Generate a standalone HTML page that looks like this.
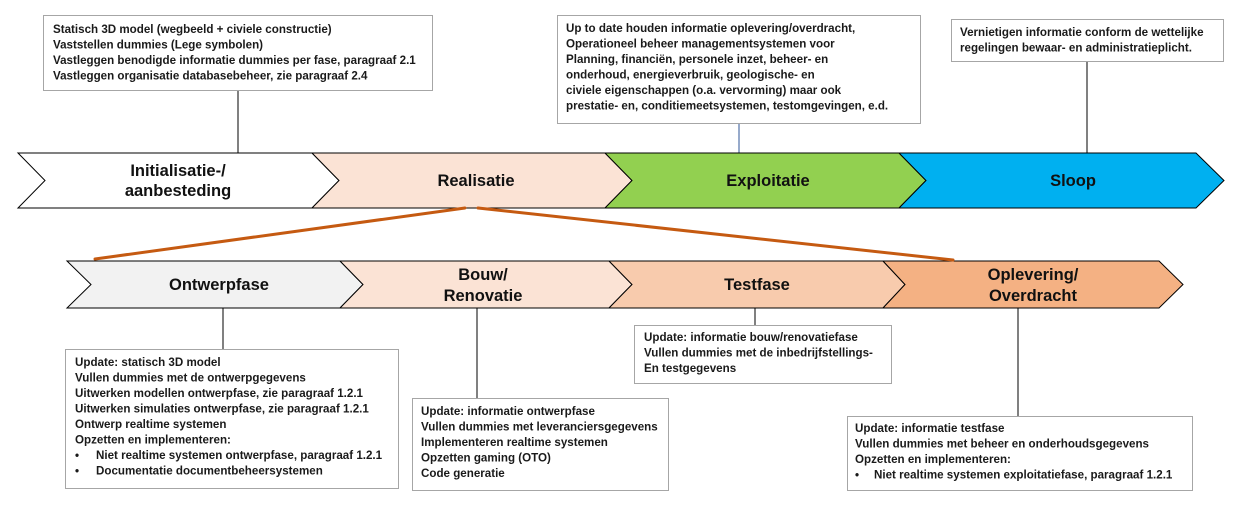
<!DOCTYPE html>
<html><head><meta charset="utf-8"><style>
html,body{margin:0;padding:0;background:#fff;}
svg{display:block;}
.t{font-family:"Liberation Sans",sans-serif;font-size:11.6px;font-weight:bold;fill:#1a1a1a;}
.h{font-family:"Liberation Sans",sans-serif;font-size:16.5px;font-weight:bold;fill:#111;}
</style></head><body>
<svg width="1242" height="505" viewBox="0 0 1242 505" xmlns="http://www.w3.org/2000/svg">
<g stroke="#000" stroke-width="1">
<line x1="238" y1="90" x2="238" y2="153"/>
<line x1="739" y1="123" x2="739" y2="153" stroke="#2f5597"/>
<line x1="1087" y1="61" x2="1087" y2="153"/>
<line x1="223" y1="308" x2="223" y2="349"/>
<line x1="477" y1="308" x2="477" y2="398"/>
<line x1="755" y1="308" x2="755" y2="325"/>
<line x1="1018" y1="308" x2="1018" y2="416"/>
</g>
<g stroke="#000" stroke-width="1">
<polygon points="18,153 312,153 339,180.5 312,208 18,208 45,180.5" fill="#fff"/>
<polygon points="312,153 605,153 632,180.5 605,208 312,208 339,180.5" fill="#fbe3d5"/>
<polygon points="605,153 899,153 926,180.5 899,208 605,208 632,180.5" fill="#92d050"/>
<polygon points="899,153 1196,153 1224,180.5 1196,208 899,208 926,180.5" fill="#00b0f0"/>
</g>
<text class="h" x="178" y="176" text-anchor="middle">Initialisatie-/</text>
<text class="h" x="178" y="196" text-anchor="middle">aanbesteding</text>
<text class="h" x="476" y="186" text-anchor="middle">Realisatie</text>
<text class="h" x="768" y="186" text-anchor="middle">Exploitatie</text>
<text class="h" x="1073" y="186" text-anchor="middle">Sloop</text>
<g stroke="#000" stroke-width="1">
<polygon points="67,261 340,261 363,284.5 340,308 67,308 91,284.5" fill="#f2f2f2"/>
<polygon points="340,261 609,261 632,284.5 609,308 340,308 363,284.5" fill="#fbe3d5"/>
<polygon points="609,261 883,261 905,284.5 883,308 609,308 632,284.5" fill="#f8cbad"/>
<polygon points="883,261 1159,261 1183,284.5 1159,308 883,308 905,284.5" fill="#f4b183"/>
</g>
<text class="h" x="219" y="290" text-anchor="middle">Ontwerpfase</text>
<text class="h" x="483" y="280" text-anchor="middle">Bouw/</text>
<text class="h" x="483" y="301" text-anchor="middle">Renovatie</text>
<text class="h" x="757" y="290" text-anchor="middle">Testfase</text>
<text class="h" x="1033" y="280" text-anchor="middle">Oplevering/</text>
<text class="h" x="1033" y="301" text-anchor="middle">Overdracht</text>
<g stroke="#c55a11" stroke-width="3" stroke-linecap="round">
<line x1="95" y1="259" x2="465" y2="208"/>
<line x1="478" y1="208" x2="953" y2="260"/>
</g>
<g fill="#fff" stroke="#a6a6a6" stroke-width="1">
<rect x="43.5" y="15.5" width="389" height="75"/>
<rect x="557.5" y="15.5" width="363" height="108"/>
<rect x="951.5" y="19.5" width="272" height="42"/>
<rect x="65.5" y="349.5" width="333" height="139"/>
<rect x="412.5" y="398.5" width="256" height="92"/>
<rect x="634.5" y="325.5" width="257" height="58"/>
<rect x="847.5" y="416.5" width="345" height="74"/>
</g>
<g class="t">
<text x="53" y="33">Statisch 3D model (wegbeeld + civiele constructie)</text>
<text x="53" y="48.5">Vaststellen dummies (Lege symbolen)</text>
<text x="53" y="64">Vastleggen benodigde informatie dummies per fase, paragraaf 2.1</text>
<text x="53" y="79.5">Vastleggen organisatie databasebeheer, zie paragraaf 2.4</text>

<text x="566" y="32">Up to date houden informatie oplevering/overdracht,</text>
<text x="566" y="47.5">Operationeel beheer managementsystemen voor</text>
<text x="566" y="63">Planning, financiën, personele inzet, beheer- en</text>
<text x="566" y="78.5">onderhoud, energieverbruik, geologische- en</text>
<text x="566" y="94">civiele eigenschappen (o.a. vervorming) maar ook</text>
<text x="566" y="109.5">prestatie- en, conditiemeetsystemen, testomgevingen, e.d.</text>

<text x="960" y="36">Vernietigen informatie conform de wettelijke</text>
<text x="960" y="51.5">regelingen bewaar- en administratieplicht.</text>

<text x="75" y="366">Update: statisch 3D model</text>
<text x="75" y="381.5">Vullen dummies met de ontwerpgegevens</text>
<text x="75" y="397">Uitwerken modellen ontwerpfase, zie paragraaf 1.2.1</text>
<text x="75" y="412.5">Uitwerken simulaties ontwerpfase, zie paragraaf 1.2.1</text>
<text x="75" y="428">Ontwerp realtime systemen</text>
<text x="75" y="443.5">Opzetten en implementeren:</text>
<text x="75" y="459">•</text><text x="96" y="459">Niet realtime systemen ontwerpfase, paragraaf 1.2.1</text>
<text x="75" y="474.5">•</text><text x="96" y="474.5">Documentatie documentbeheersystemen</text>

<text x="421" y="415">Update: informatie ontwerpfase</text>
<text x="421" y="430.5">Vullen dummies met leveranciersgegevens</text>
<text x="421" y="446">Implementeren realtime systemen</text>
<text x="421" y="461.5">Opzetten gaming (OTO)</text>
<text x="421" y="477">Code generatie</text>

<text x="644" y="341">Update: informatie bouw/renovatiefase</text>
<text x="644" y="356.5">Vullen dummies met de inbedrijfstellings-</text>
<text x="644" y="372">En testgegevens</text>

<text x="855" y="432">Update: informatie testfase</text>
<text x="855" y="447.5">Vullen dummies met beheer en onderhoudsgegevens</text>
<text x="855" y="463">Opzetten en implementeren:</text>
<text x="855" y="478.5">•</text><text x="874" y="478.5">Niet realtime systemen exploitatiefase, paragraaf 1.2.1</text>
</g>
</svg>
</body></html>
